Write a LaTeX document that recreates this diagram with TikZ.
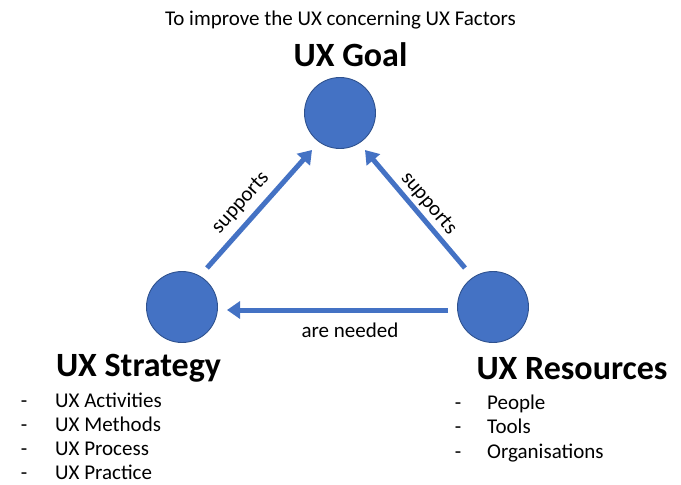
\documentclass[tikz,border=0pt]{standalone}
\usepackage{fontspec}
\setmainfont{Carlito}
\usetikzlibrary{arrows.meta,calc}
\definecolor{ublue}{HTML}{4472C4}
\definecolor{udark}{HTML}{2F528F}
\begin{document}
\begin{tikzpicture}[x=1pt,y=-1pt,
  circ/.style={circle,minimum size=71pt,inner sep=0pt,fill=ublue,draw=udark,line width=0.9pt},
  arr/.style={draw=ublue,line width=5pt,-{Triangle[width=17pt,length=13pt]}},
  txt/.style={font=\fontsize{21}{24}\selectfont,inner sep=0pt},
  head/.style={font=\fontsize{34}{38}\selectfont\bfseries,inner sep=0pt,anchor=base},
  itm/.style={txt,anchor=base west},
  dsh/.style={txt,anchor=base}]
\useasboundingbox (0,0) rectangle (681,485);
\node[circ] (g) at (340,113) {};
\node[circ] (s) at (182,307) {};
\node[circ] (r) at (493,307) {};
\node[txt,anchor=base] (title) at (340.5,25) {To improve the UX concerning UX Factors};
\node[head] (gl) at (350.5,66) {UX Goal};
\node[head] (sl) at (138.5,376) {UX Strategy};
\node[head] (rl) at (572,379) {UX Resources};
\coordinate (a1) at ($(s)+(25,-39)$);
\coordinate (b1) at ($(g)+(-28,37)$);
\coordinate (a2) at ($(r)+(-28,-39)$);
\coordinate (b2) at ($(g)+(25,37)$);
\coordinate (a3) at ($(r)+(-45,3)$);
\coordinate (b3) at ($(s)+(45,3)$);
\draw[arr] (a1) -- (b1) node[pos=0.45,sloped,above=7pt,txt] (l1) {supports};
\draw[arr] (a2) -- (b2) node[pos=0.47,sloped,above=3pt,txt] (l2) {supports};
\draw[arr] (a3) -- (b3);
\node[txt] (l3) at (350,330) {are needed};
\foreach \t [count=\i] in {UX Activities,UX Methods,UX Process,UX Practice}{
  \node[dsh] (sd\i) at (24,407+24*\i-24) {-};
  \node[itm] (si\i) at (55,407+24*\i-24) {\t};
}
\foreach \t [count=\i] in {People,Tools,Organisations}{
  \node[dsh] (rd\i) at (458,409+24.5*\i-24.5) {-};
  \node[itm] (ri\i) at (487,409+24.5*\i-24.5) {\t};
}
\end{tikzpicture}
\end{document}
